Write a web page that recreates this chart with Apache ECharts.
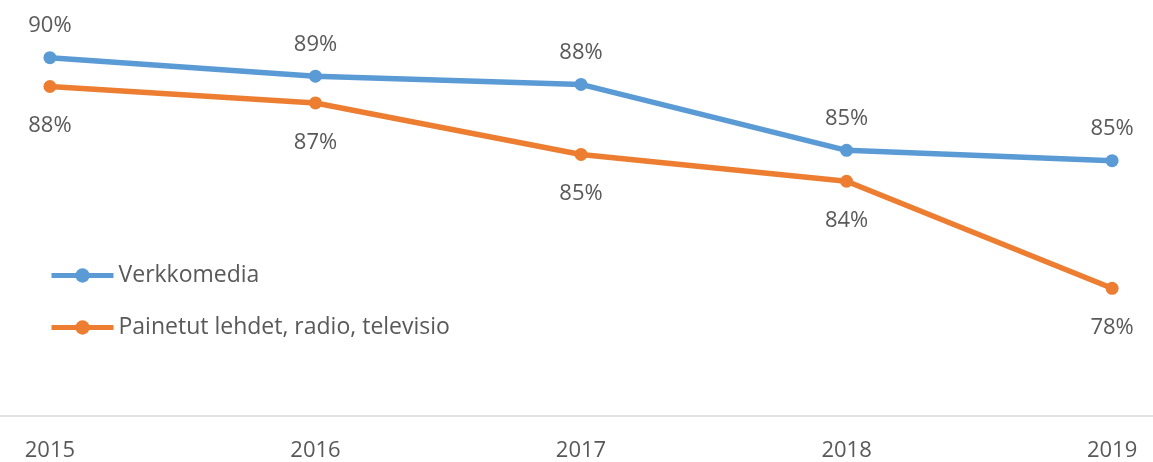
<!DOCTYPE html>
<html>
<head>
<meta charset="utf-8">
<script src="https://cdn.jsdelivr.net/npm/echarts@6/dist/echarts.min.js"></script>
<style>
html,body{margin:0;padding:0;background:#fff;}
#chart{width:1153px;height:462px;}
</style>
</head>
<body>
<div id="chart"></div>
<script>
const years = [2015, 2016, 2017, 2018, 2019];
const verkkomedia = [89.6, 88.7, 88.3, 85.1, 84.6];
const painetut = [88.2, 87.4, 84.9, 83.6, 78.4];
const seriesNames = ['Verkkomedia', 'Painetut lehdet, radio, televisio'];

const textColor = '#595959';
const fontFamily = '"Open Sans", sans-serif';
const fmt = p => Math.round(p.value[1]) + '%';

const chart = echarts.init(document.getElementById('chart'));
chart.setOption({
  animation: false,
  backgroundColor: '#ffffff',
  textStyle: { fontFamily: fontFamily },
  grid: { left: 0, right: 0, top: 0, bottom: 45, containLabel: false },
  legend: {
    orient: 'vertical',
    left: 49,
    top: 264,
    padding: 0,
    itemWidth: 62,
    itemHeight: 18,
    itemGap: 29,
    lineStyle: { width: 5 },
    textStyle: { color: textColor, fontSize: 23, fontFamily: fontFamily },
    data: seriesNames
  },
  xAxis: {
    type: 'value',
    min: 2014.812,
    max: 2019.154,
    axisLine: { show: true, lineStyle: { color: '#d9d9d9', width: 1.5 } },
    axisTick: { show: false },
    splitLine: { show: false },
    axisLabel: {
      customValues: years,
      color: textColor,
      fontSize: 22,
      margin: 24,
      fontFamily: fontFamily,
      formatter: v => String(v)
    }
  },
  yAxis: {
    type: 'value',
    min: 72.2,
    max: 92.4,
    show: false,
    splitLine: { show: false }
  },
  series: [
    {
      name: seriesNames[0],
      type: 'line',
      data: years.map((y, i) => [y, verkkomedia[i]]),
      symbol: 'circle',
      symbolSize: 13,
      showAllSymbol: true,
      lineStyle: { color: '#5B9BD5', width: 5.5 },
      itemStyle: { color: '#5B9BD5' },
      label: { show: true, position: 'top', distance: 14, color: textColor, fontSize: 22, fontFamily: fontFamily, formatter: fmt }
    },
    {
      name: seriesNames[1],
      type: 'line',
      data: years.map((y, i) => [y, painetut[i]]),
      symbol: 'circle',
      symbolSize: 13,
      showAllSymbol: true,
      lineStyle: { color: '#ED7D31', width: 5.5 },
      itemStyle: { color: '#ED7D31' },
      label: { show: true, position: 'bottom', distance: 22, color: textColor, fontSize: 22, fontFamily: fontFamily, formatter: fmt }
    }
  ]
});
</script>
</body>
</html>
